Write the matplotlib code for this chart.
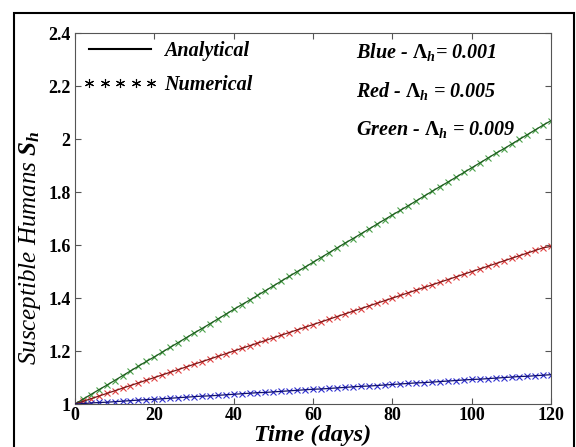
import matplotlib
matplotlib.use("Agg")
import matplotlib.pyplot as plt
from matplotlib.lines import Line2D
from matplotlib.patches import Rectangle

# ── Data ─────────────────────────────────────────────────────────────────────
days = list(range(0, 121, 2))

s_green = [1.000, 1.018, 1.036, 1.054, 1.071, 1.089, 1.107, 1.125, 1.143, 1.161,
           1.178, 1.196, 1.214, 1.232, 1.250, 1.268, 1.285, 1.303, 1.321, 1.339,
           1.357, 1.375, 1.392, 1.410, 1.428, 1.446, 1.464, 1.482, 1.500, 1.517,
           1.535, 1.553, 1.571, 1.589, 1.607, 1.624, 1.642, 1.660, 1.678, 1.696,
           1.714, 1.731, 1.749, 1.767, 1.785, 1.803, 1.821, 1.838, 1.856, 1.874,
           1.892, 1.910, 1.928, 1.946, 1.963, 1.981, 1.999, 2.017, 2.035, 2.053,
           2.070]

s_red = [1.00, 1.01, 1.02, 1.03, 1.04, 1.05, 1.06, 1.07, 1.08, 1.09,
         1.10, 1.11, 1.12, 1.13, 1.14, 1.15, 1.16, 1.17, 1.18, 1.19,
         1.20, 1.21, 1.22, 1.23, 1.24, 1.25, 1.26, 1.27, 1.28, 1.29,
         1.30, 1.31, 1.32, 1.33, 1.34, 1.35, 1.36, 1.37, 1.38, 1.39,
         1.40, 1.41, 1.42, 1.43, 1.44, 1.45, 1.46, 1.47, 1.48, 1.49,
         1.50, 1.51, 1.52, 1.53, 1.54, 1.55, 1.56, 1.57, 1.58, 1.59,
         1.595]

s_blue = [1.000, 1.002, 1.004, 1.006, 1.007, 1.009, 1.011, 1.013, 1.015, 1.017,
          1.018, 1.020, 1.022, 1.024, 1.026, 1.028, 1.030, 1.031, 1.033, 1.035,
          1.037, 1.039, 1.041, 1.043, 1.044, 1.046, 1.048, 1.050, 1.052, 1.054,
          1.056, 1.057, 1.059, 1.061, 1.063, 1.065, 1.067, 1.068, 1.070, 1.072,
          1.074, 1.076, 1.078, 1.080, 1.081, 1.083, 1.085, 1.087, 1.089, 1.091,
          1.093, 1.094, 1.096, 1.098, 1.100, 1.102, 1.104, 1.105, 1.107, 1.109,
          1.111]

x_ticks = [0, 20, 40, 60, 80, 100, 120]
y_ticks = [1, 1.2, 1.4, 1.6, 1.8, 2, 2.2, 2.4]
y_tick_labels = ["1", "1.2", "1.4", "1.6", "1.8", "2", "2.2", "2.4"]

notes = [
    r"Blue - $\Lambda_h$= 0.001",
    r"Red - $\Lambda_h$ = 0.005",
    r"Green - $\Lambda_h$ = 0.009",
]

# ── Style ────────────────────────────────────────────────────────────────────
plt.rcParams["font.family"] = "Liberation Serif"
plt.rcParams["mathtext.fontset"] = "custom"
plt.rcParams["mathtext.rm"] = "Liberation Serif:bold"
plt.rcParams["mathtext.it"] = "Liberation Serif:italic:bold"
plt.rcParams["mathtext.bf"] = "Liberation Serif:bold"

series = [
    (s_green, "#1e5a1e", "#4aa04a"),
    (s_red,   "#7a1616", "#e04040"),
    (s_blue,  "#10106e", "#3030d0"),
]

fig = plt.figure(figsize=(5.76, 4.47), dpi=100, facecolor="white")
ax = fig.add_axes([0.130, 0.096, 0.827, 0.830])

for vals, line_col, mark_col in series:
    ax.plot(days, vals, linestyle="none", marker="x", markersize=5,
            markeredgewidth=0.8, color=mark_col, zorder=2)
    ax.plot(days, vals, color=line_col, linewidth=0.9, zorder=3)

ax.set_xlim(0, 120)
ax.set_ylim(1, 2.4)
ax.set_xticks(x_ticks)
ax.set_yticks(y_ticks)
ax.set_yticklabels(y_tick_labels)
ax.tick_params(direction="in", top=True, right=True, length=4,
               labelsize=13, color="#555555", pad=3)
ax.tick_params(axis="x", pad=2)
for lbl in ax.get_xticklabels() + ax.get_yticklabels():
    lbl.set_fontweight("bold")
ax.spines[:].set_color("#555555")

ax.set_xlabel("Time (days)", fontsize=17.5, fontweight="bold", style="italic")
ax.xaxis.set_label_coords(0.5, -0.055)
ax.set_ylabel(r"Susceptible Humans $S_h$", fontsize=18, fontweight="normal",
              style="italic")
ax.yaxis.set_label_coords(-0.066, 0.42)

handles = [
    Line2D([], [], color="black", linewidth=1.5),
    Line2D([], [], color="black", linestyle="none", marker=(6, 2, 0),
           markersize=6.5, markeredgewidth=0.8),
]
leg = ax.legend(handles, ["Analytical", "Numerical"], loc="upper left",
                frameon=False, numpoints=5, handlelength=3.7,
                handletextpad=0.35, borderaxespad=0.1, labelspacing=0.7,
                borderpad=0.3,
                prop={"family": "Liberation Serif", "style": "italic",
                      "weight": "bold", "size": 14.5})

for i, txt in enumerate(notes):
    ax.text(0.59, 0.949 - i * 0.105, txt, transform=ax.transAxes,
            fontsize=14.5, fontweight="bold", style="italic", va="center")

# outer frame around the picture
fig.patches.append(Rectangle((0.024, -0.02), 0.9725, 0.991,
                             transform=fig.transFigure, fill=False,
                             edgecolor="black", linewidth=1.5))

fig.savefig("out.png", dpi=100, facecolor="white")
